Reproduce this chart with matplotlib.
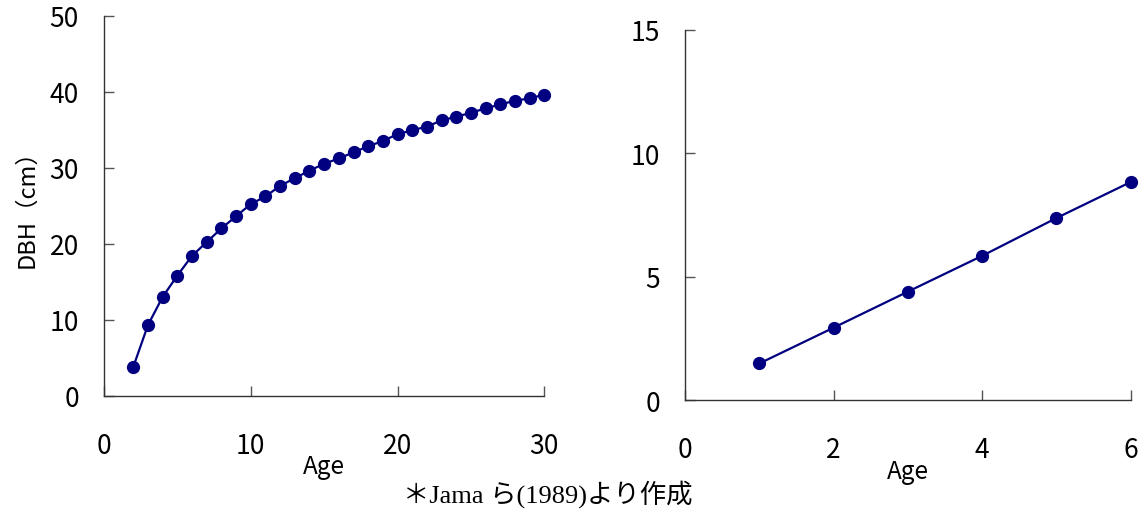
import matplotlib
matplotlib.use("Agg")
import matplotlib.pyplot as plt

plt.rcParams['font.family'] = ['Noto Sans CJK JP', 'DejaVu Sans']

# Left panel data
age_left = list(range(2, 31))
dbh_left = [3.8, 9.3, 13.0, 15.8, 18.4, 20.2, 22.0, 23.6, 25.2, 26.2, 27.6, 28.6,
            29.6, 30.5, 31.2, 32.0, 32.8, 33.5, 34.4, 34.9, 35.4, 36.2, 36.7, 37.2,
            37.8, 38.3, 38.8, 39.1, 39.6]

# Right panel data
age_right = [1, 2, 3, 4, 5, 6]
dbh_right = [1.48, 2.93, 4.39, 5.84, 7.37, 8.83]

left_xticks = [0, 10, 20, 30]
left_yticks = [0, 10, 20, 30, 40, 50]
right_xticks = [0, 2, 4, 6]
right_yticks = [0, 5, 10, 15]

navy = '#000080'

fig = plt.figure(figsize=(11.45, 5.10), dpi=100)
ax1 = fig.add_axes([0.0908, 0.2222, 0.4754 - 0.0908, 0.9676 - 0.2222])
ax2 = fig.add_axes([0.5983, 0.2137, 0.9875 - 0.5983, 0.9398 - 0.2137])

def style(ax, xt, yt):
    for s in ('top', 'right'):
        ax.spines[s].set_visible(False)
    for s in ('left', 'bottom'):
        ax.spines[s].set_color('#333333')
        ax.spines[s].set_linewidth(1.0)
    ax.set_xticks(xt)
    ax.set_yticks(yt)
    ax.set_xlim(xt[0], xt[-1])
    ax.set_ylim(yt[0], yt[-1])
    ax.tick_params(axis='x', direction='in', length=7, width=1, color='#555555',
                   pad=26, labelsize=19)
    ax.tick_params(axis='y', direction='in', length=7, width=1, color='#555555',
                   pad=18, labelsize=19)
    ax.set_xlabel('Age', fontsize=17.5, labelpad=-4)

ax1.plot(age_left, dbh_left, color=navy, lw=1.6, marker='o', ms=8.5, clip_on=False)
ax2.plot(age_right, dbh_right, color=navy, lw=1.6, marker='o', ms=8.5, clip_on=False)
style(ax1, left_xticks, left_yticks)
style(ax2, right_xticks, right_yticks)

fig.text(27 / 1145, 1 - 203 / 510, 'DBH（cm）', rotation=90, ha='center', va='center',
         fontsize=17)
fig.text(548 / 1145, 1 - 494 / 510, '＊Jama ら(1989)より作成', ha='center', va='center',
         fontsize=19, family=['Liberation Serif', 'Noto Sans CJK JP'])

fig.savefig('out.png', dpi=100)
